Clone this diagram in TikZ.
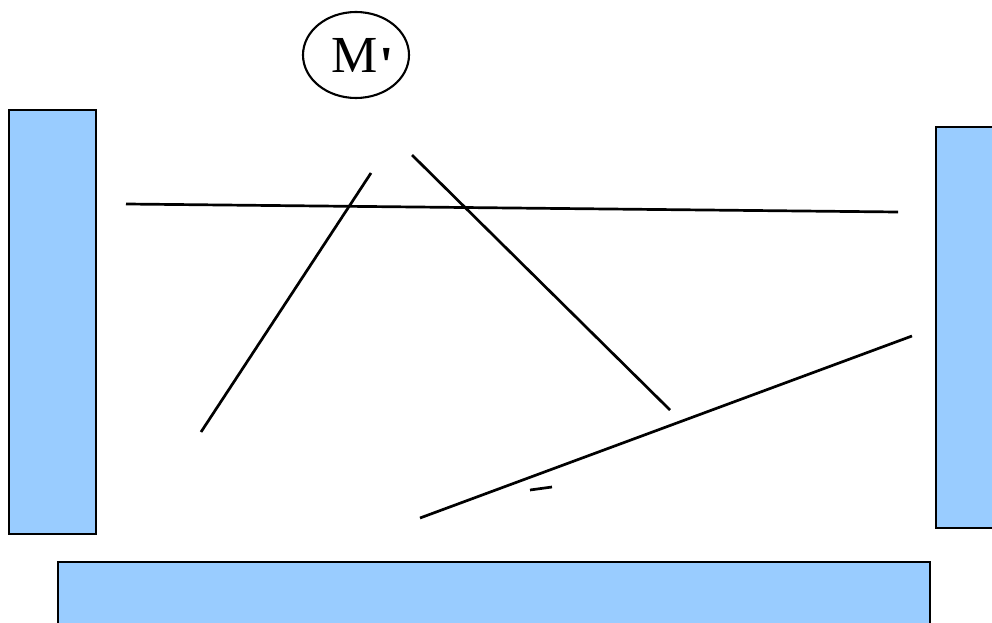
\documentclass[tikz,border=0pt]{standalone}
\usepackage{fontspec}
\newfontfamily\mfont{Liberation Serif}
\definecolor{panelblue}{HTML}{99CCFF}
\begin{document}
\begin{tikzpicture}[x=1pt,y=-1pt,
  panel/.style={draw=black,line width=1.6pt,fill=panelblue},
  stroke/.style={draw=black,line width=2.7pt},
  ring/.style={draw=black,line width=2.1pt}]
\useasboundingbox (0,0) rectangle (992,623);
% panels
\path[panel] (9,110) rectangle (96,534);
\path[panel] (936,127) rectangle (1010,528);
\path[panel] (58,562) rectangle (930,640);
% ellipse with label
\coordinate (mc) at (356,55);
\draw[ring] (mc) ellipse [x radius=53, y radius=43];
\node[anchor=base west,inner sep=0pt,font=\mfont\fontsize{52}{52}\selectfont] (mlabel) at (331,73) {M\kern2pt\raisebox{-10pt}{\textbf{\symbol{"27}}}};
% lines
\coordinate (a1) at (126,204); \coordinate (a2) at (898,212);
\coordinate (b1) at (371,173); \coordinate (b2) at (201,432);
\coordinate (c1) at (412,155); \coordinate (c2) at (670,410);
\coordinate (d1) at (912,336); \coordinate (d2) at (420,518);
\coordinate (e1) at (530,490); \coordinate (e2) at (552,487);
\draw[stroke] (a1) -- (a2);
\draw[stroke] (b1) -- (b2);
\draw[stroke] (c1) -- (c2);
\draw[stroke] (d1) -- (d2);
\draw[stroke] (e1) -- (e2);
\end{tikzpicture}
\end{document}
